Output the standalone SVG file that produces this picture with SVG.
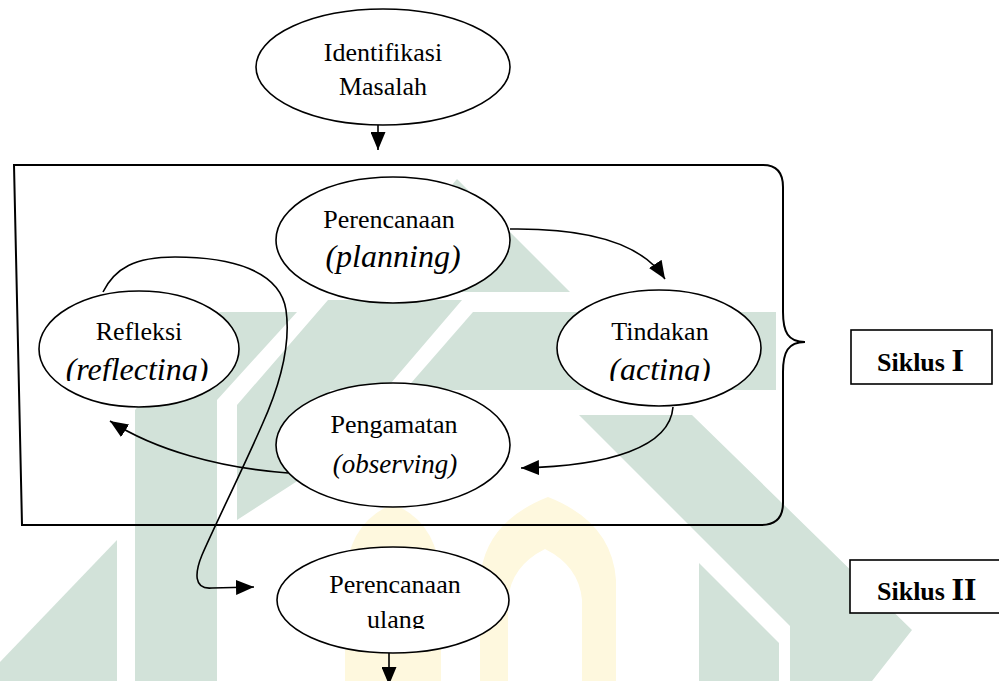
<svg xmlns="http://www.w3.org/2000/svg" width="999" height="681" viewBox="0 0 999 681">
<style>
.wg{fill:#d2e2d9;stroke:none}
.wy{fill:#fef8de;stroke:none;fill-rule:evenodd}
.nd{fill:#fff;stroke:#000;stroke-width:1.6}
.t{font-family:"Liberation Serif","Times New Roman",serif;font-size:26px;text-anchor:middle;fill:#000}
.i{font-style:italic;font-size:32px}
.sk{font-family:"Liberation Serif","Times New Roman",serif;font-size:26px;font-weight:bold;fill:#000}
.c{fill:none;stroke:#000;stroke-width:1.6}
.box{fill:#fff;stroke:#000;stroke-width:1.6}
</style>
<defs>
<marker id="ah" viewBox="0 0 12 10" refX="12" refY="5" markerUnits="userSpaceOnUse" markerWidth="18" markerHeight="15" orient="auto">
<path d="M0,0 L12,5 L0,10 Z" fill="#000"/>
</marker>
<clipPath id="cl1"><rect x="0" y="0" width="999" height="381"/></clipPath>
<clipPath id="cl2"><rect x="0" y="0" width="999" height="629"/></clipPath>
</defs>
<rect x="0" y="0" width="999" height="681" fill="#fff"/>
<g id="watermark">
<polygon class="wg" points="0,662 117,540 117,681 0,681"/>
<polygon class="wg" points="135,410 220,312 297,312 217,400 217,681 135,681"/>
<polygon class="wg" points="237,405 328,300 462,300 385,390 330,390 330,460 237,520"/>
<polygon class="wg" points="457,179 570,292 360,292"/>
<polygon class="wg" points="473,312 776,312 776,390 405,390"/>
<polygon class="wg" points="579,415 692,415 912,630 872,681 790,681 790,626"/>
<polygon class="wg" points="699,563 779,643 779,681 699,681"/>
<path class="wy" d="M345,681 L345,580 Q348,522 393,504 Q438,522 441,580 L441,681 Z"/>
<path class="wy" d="M480,681 L480,580 Q484,522 548,497 Q612,522 616,580 L616,681 Z M508,681 L508,600 Q511,566 545,549 Q579,566 582,600 L582,681 Z"/>
</g>
<g id="frame">
<path d="M14,165 L763,165 Q783,165 783,187 L783,312 C783,332 788,342 805,342 C788,342 783,352 783,372 L783,503 Q783,525 761,525 L22,525 Z" fill="none" stroke="#000" stroke-width="2"/>
</g>
<g id="connectors">
<path class="c" d="M378,125 L378,150" marker-end="url(#ah)"/>
<path class="c" d="M510,229 C580,228 640,240 665,279" marker-end="url(#ah)"/>
<path class="c" d="M673,407 C670,447 610,466 521,468" marker-end="url(#ah)"/>
<path class="c" d="M288,473 C220,468 155,450 110,421" marker-end="url(#ah)"/>
<path class="c" d="M103,292 C115,268 135,257 175,257 C230,257 280,270 286,310 C291,345 280,385 262,425 C240,475 215,525 202,555 C195,572 193,590 212,588 L254,587" marker-end="url(#ah)"/>
<path class="c" d="M389,653 L389,685" marker-end="url(#ah)"/>
</g>
<g id="n-identifikasi">
<ellipse class="nd" cx="383" cy="67" rx="127" ry="58"/>
<text class="t" x="383" y="61">Identifikasi</text>
<text class="t" x="383" y="95">Masalah</text>
</g>
<g id="n-perencanaan">
<ellipse class="nd" cx="393" cy="240" rx="117" ry="63"/>
<text class="t" x="389" y="228">Perencanaan</text>
<text class="t i" x="393" y="267">(planning)</text>
</g>
<g id="n-tindakan">
<ellipse class="nd" cx="659" cy="348" rx="102" ry="58"/>
<text class="t" x="660" y="340">Tindakan</text>
<text class="t i" x="660" y="380" clip-path="url(#cl1)">(acting)</text>
</g>
<g id="n-refleksi">
<ellipse class="nd" cx="139" cy="349" rx="100" ry="58"/>
<text class="t" x="139" y="340">Refleksi</text>
<text class="t i" x="137" y="380" clip-path="url(#cl1)">(reflecting)</text>
</g>
<g id="n-pengamatan">
<ellipse class="nd" cx="393" cy="445" rx="117" ry="62"/>
<text class="t" x="394" y="433">Pengamatan</text>
<text class="t i" x="395" y="473" style="font-size:27px">(observing)</text>
</g>
<g id="n-perencanaan-ulang">
<ellipse class="nd" cx="393" cy="600" rx="116" ry="53"/>
<text class="t" x="395" y="593">Perencanaan</text>
<text class="t" x="396" y="628" clip-path="url(#cl2)">ulang</text>
</g>
<g id="siklus1">
<rect class="box" x="851" y="330" width="141" height="54"/>
<text class="sk" x="877" y="371">Siklus <tspan font-size="32">I</tspan></text>
</g>
<g id="siklus2">
<rect class="box" x="850" y="560" width="160" height="53"/>
<text class="sk" x="877" y="600">Siklus <tspan font-size="32">II</tspan></text>
</g>
</svg>
